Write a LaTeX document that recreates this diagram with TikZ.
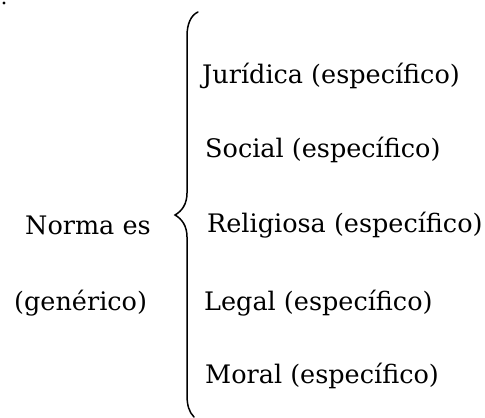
\documentclass[tikz,border=0pt]{standalone}
\usepackage{fontspec}
\setmainfont{DejaVu Serif}
\begin{document}
\begin{tikzpicture}[
    x=1pt,
    y=-1pt,
    txt/.style={anchor=base west, inner sep=0pt,
      font=\fontsize{25.5}{30}\selectfont},
    brace/.style={line width=1.5pt, line cap=round}
  ]
  \useasboundingbox (0,0) rectangle (485,418);

  % stray dot in the corner
  \fill (4,3) circle (1.7);

  % generic side
  \node[txt] (norma) at (25,234) {Norma es};
  \node[txt] (gen) at (14,310) {(genérico)};

  % the curly brace
  \draw[brace] (198,12) .. controls (191,15) and (187,24) .. (187,36)
    -- (187,193) .. controls (187,204) and (182,211) .. (175,215)
    .. controls (182,219) and (187,226) .. (187,237)
    -- (187,395) .. controls (187,405) and (189,412) .. (194,417);

  % specific side
  \node[txt] (jur) at (202,83) {Jurídica (específico)};
  \node[txt] (soc) at (205,157) {Social (específico)};
  \node[txt] (rel) at (207,232) {Religiosa (específico)};
  \node[txt] (leg) at (204,310) {Legal (específico)};
  \node[txt] (mor) at (205,383) {Moral (específico)};
\end{tikzpicture}
\end{document}
